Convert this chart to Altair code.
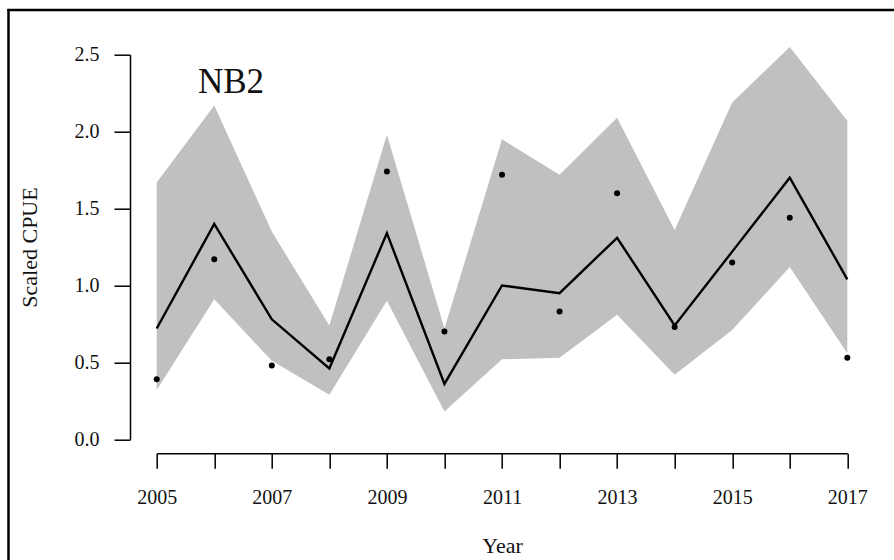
import altair as alt
import pandas as pd

# Scaled CPUE index for stratum NB2
years = [2005, 2006, 2007, 2008, 2009, 2010, 2011, 2012, 2013, 2014, 2015, 2016, 2017]
fitted = [0.72, 1.40, 0.78, 0.46, 1.34, 0.36, 1.00, 0.95, 1.31, 0.74, 1.22, 1.70, 1.04]
observed = [0.39, 1.17, 0.48, 0.52, 1.74, 0.70, 1.72, 0.83, 1.60, 0.73, 1.15, 1.44, 0.53]
lower = [0.32, 0.91, 0.51, 0.29, 0.90, 0.18, 0.52, 0.53, 0.81, 0.42, 0.71, 1.12, 0.56]
upper = [1.67, 2.17, 1.35, 0.74, 1.98, 0.72, 1.95, 1.72, 2.09, 1.36, 2.19, 2.55, 2.07]
y_ticks = [0.0, 0.5, 1.0, 1.5, 2.0, 2.5]
panel_label = "NB2"

df = pd.DataFrame({
    "Year": years,
    "fitted": fitted,
    "observed": observed,
    "lower": lower,
    "upper": upper,
})

FONT = "Liberation Serif"
W, H = 690.6, 384.6

x_enc = alt.X(
    "Year:Q",
    scale=alt.Scale(domain=[2005, 2017], nice=False, zero=False),
    axis=alt.Axis(
        title="Year",
        values=years,
        format="d",
        labelExpr="datum.value % 2 == 1 ? datum.label : ''",
        grid=False,
        domainColor="black",
        domainWidth=1.5,
        tickColor="black",
        tickWidth=1.5,
        tickSize=15,
        offset=14,
        labelPadding=19,
        labelFont=FONT,
        labelFontSize=20,
        labelColor="#111",
        labelFlush=False,
        labelOverlap=False,
        titleFont=FONT,
        titleFontSize=22,
        titleFontWeight="normal",
        titleColor="#111",
        titlePadding=28,
    ),
)

y_scale = alt.Scale(domain=[0, 2.5], nice=False, zero=False)
y_axis = alt.Axis(
    title="Scaled CPUE",
    values=y_ticks,
    format=".1f",
    grid=False,
    domainColor="black",
    domainWidth=1.5,
    tickColor="black",
    tickWidth=1.5,
    tickSize=16,
    offset=26.7,
    labelPadding=15,
    labelFont=FONT,
    labelFontSize=20,
    labelColor="#111",
    labelFlush=False,
    titleFont=FONT,
    titleFontSize=22,
    titleFontWeight="normal",
    titleColor="#111",
    titlePadding=33,
)

base = alt.Chart(df)

band = base.mark_area(color="#c0c0c0", clip=False, opacity=1).encode(
    x=x_enc,
    y=alt.Y("lower:Q", scale=y_scale, axis=y_axis),
    y2="upper:Q",
)

line = base.mark_line(color="black", strokeWidth=2.4, clip=False).encode(
    x="Year:Q",
    y="fitted:Q",
)

points = base.mark_point(
    shape="circle", filled=True, color="black", size=36, opacity=1
).encode(
    x="Year:Q",
    y="observed:Q",
)

label = alt.Chart(
    pd.DataFrame({"Year": [2006.29], "value": [2.32], "text": [panel_label]})
).mark_text(font=FONT, fontSize=35, color="#111", baseline="middle", align="center").encode(
    x="Year:Q",
    y="value:Q",
    text="text:N",
)

# figure frame (left and top edges of the device box)
one = alt.Data(values=[{"k": 0}])
frame_left = alt.Chart(one).mark_rule(color="black", strokeWidth=2.5, clip=False).encode(
    x=alt.value(-148.2), y=alt.value(-45.2), y2=alt.value(H + 125)
)
frame_top = alt.Chart(one).mark_rule(color="black", strokeWidth=2.5, clip=False).encode(
    x=alt.value(-149.5), x2=alt.value(W + 60), y=alt.value(-44.7)
)

chart = (
    alt.layer(band, line, points, label, frame_left, frame_top)
    .properties(
        width=W,
        height=H,
        padding={"left": 156.7, "top": 54.7, "right": 46.7, "bottom": 120.7},
        autosize=alt.AutoSizeParams(type="none"),
        background="white",
    )
    .configure_view(stroke=None)
)

chart.save("out.html", embed_options={"renderer": "svg", "actions": False})
